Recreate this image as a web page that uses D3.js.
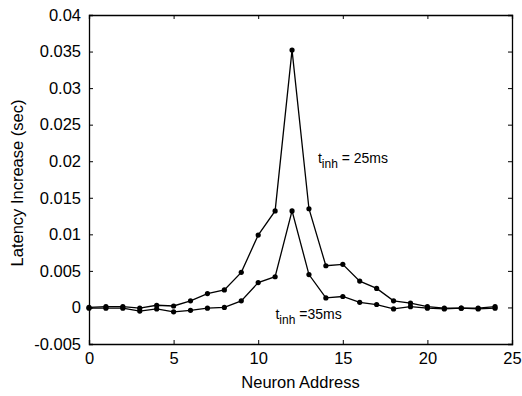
<!DOCTYPE html>
<html>
<head>
<meta charset="utf-8">
<script src="https://cdn.jsdelivr.net/npm/d3@7"></script>
<style>
  body { margin: 0; background: #fff; }
  svg { display: block; font-family: "Liberation Sans", Arial, sans-serif; }
</style>
</head>
<body>
<svg id="chart" width="522" height="396"></svg>
<script>
// neuron addresses 0..24
var neuronAddress = d3.range(0, 25);

// latency increase (sec), t_inh = 25ms
var latency25 = [0, 0.0001, 0.0001, -0.0001, 0.0003, 0.0002, 0.0009, 0.0019, 0.0024, 0.0048,
  0.0099, 0.0132, 0.0352, 0.0135, 0.0057, 0.0059, 0.0036, 0.0026, 0.0009, 0.0006,
  0.0001, -0.0001, -0.0001, -0.0001, 0.0001];

// latency increase (sec), t_inh = 35ms
var latency35 = [-0.0001, -0.0001, -0.0001, -0.0005, -0.0002, -0.0006, -0.0004, -0.0001, 0, 0.0009,
  0.0034, 0.0042, 0.0132, 0.0045, 0.0013, 0.0015, 0.0007, 0.0004, -0.0002, 0.0001,
  -0.0001, -0.0002, -0.0001, -0.0002, -0.0001];

var xTicks = [0, 5, 10, 15, 20, 25];
var yTicks = [-0.005, 0, 0.005, 0.01, 0.015, 0.02, 0.025, 0.03, 0.035, 0.04];

var margin = {top: 15, right: 10, bottom: 52, left: 89},
    width = 522 - margin.left - margin.right,
    height = 396 - margin.top - margin.bottom;

var svg = d3.select("#chart");
var g = svg.append("g").attr("transform", "translate(" + margin.left + "," + margin.top + ")");

var x = d3.scaleLinear().domain([0, 25]).range([0, width]);
var y = d3.scaleLinear().domain([-0.005, 0.04]).range([height, 0]);

function fmt(d) { return d === 0 ? "0" : String(d); }

// axes with inward ticks, mirrored on top/right
var tk = 4;
g.append("g").attr("class", "ax")
  .attr("transform", "translate(0," + height + ")")
  .call(d3.axisBottom(x).tickValues(xTicks).tickFormat(fmt).tickSize(-tk).tickPadding(8));
g.append("g").attr("class", "ax")
  .call(d3.axisTop(x).tickValues(xTicks).tickFormat("").tickSize(-tk));
g.append("g").attr("class", "ax")
  .call(d3.axisLeft(y).tickValues(yTicks).tickFormat(fmt).tickSize(-tk).tickPadding(8));
g.append("g").attr("class", "ax")
  .attr("transform", "translate(" + width + ",0)")
  .call(d3.axisRight(y).tickValues(yTicks).tickFormat("").tickSize(-tk));

g.selectAll(".ax path").attr("stroke", "#000").attr("stroke-width", 1.3);
g.selectAll(".ax line").attr("stroke", "#000").attr("stroke-width", 1);
g.selectAll(".ax text").attr("fill", "#000").style("font-size", "16.5px");

// series
var line = d3.line()
  .x(function(d, i) { return x(neuronAddress[i]); })
  .y(function(d) { return y(d); });

[latency25, latency35].forEach(function(series) {
  g.append("path")
    .datum(series)
    .attr("fill", "none")
    .attr("stroke", "#000")
    .attr("stroke-width", 1.3)
    .attr("d", line);
  g.selectAll(null)
    .data(series)
    .enter().append("circle")
    .attr("cx", function(d, i) { return x(neuronAddress[i]); })
    .attr("cy", function(d) { return y(d); })
    .attr("r", 2.6)
    .attr("fill", "#000");
});

// annotations
function tinh(xv, yv, rest) {
  var t = g.append("text")
    .attr("x", x(xv)).attr("y", y(yv))
    .style("font-size", "14px").style("fill", "#000");
  t.append("tspan").style("fill", "#000").text("t");
  t.append("tspan").attr("dy", 5).style("fill", "#000").style("font-size", "12px").text("inh");
  t.append("tspan").attr("dy", -5).style("fill", "#000").text(rest);
}
tinh(13.53, 0.0198, " = 25ms");
tinh(11.02, -0.0016, " =35ms");

// axis labels
svg.append("text")
  .attr("x", margin.left + width / 2)
  .attr("y", 388)
  .attr("text-anchor", "middle")
  .style("font-size", "16.5px")
  .text("Neuron Address");

svg.append("text")
  .attr("transform", "translate(23,183) rotate(-90)")
  .attr("text-anchor", "middle")
  .style("font-size", "16.5px")
  .text("Latency Increase (sec)");
</script>
</body>
</html>
